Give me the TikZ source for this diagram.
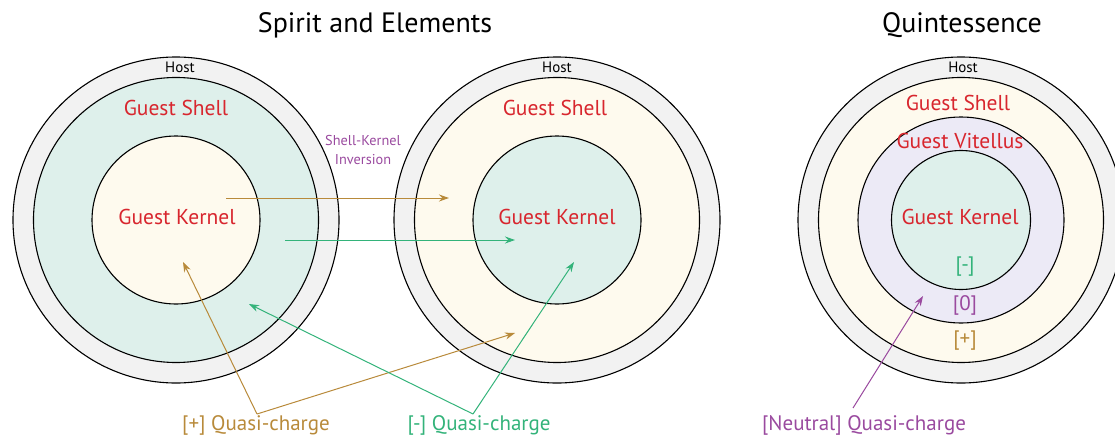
\documentclass[tikz,border=0pt]{standalone}
\usepackage{fontspec}
\setmainfont{PT Sans}
\usetikzlibrary{arrows.meta}
\definecolor{hostgray}{HTML}{F2F2F2}
\definecolor{tealfill}{HTML}{DEF0EB}
\definecolor{creamfill}{HTML}{FEFAEE}
\definecolor{lavfill}{HTML}{ECEAF6}
\definecolor{lblred}{HTML}{D8262E}
\definecolor{goldc}{HTML}{B88A3A}
\definecolor{grnc}{HTML}{33B37A}
\definecolor{purpc}{HTML}{9A4A9F}
\tikzset{
  ring/.style={circle, draw=black, line width=1.1pt, inner sep=0pt},
  title/.style={font=\fontsize{28}{32}\selectfont},
  hostlbl/.style={font=\fontsize{15}{17}\selectfont},
  invlbl/.style={font=\fontsize{14.3}{19}\selectfont},
  guestlbl/.style={font=\fontsize{21.5}{24}\selectfont, text=lblred},
  qlbl/.style={font=\fontsize{21}{24}\selectfont},
  conn/.style={line width=1pt, -{Stealth[length=10pt,width=7pt]}},
}
\begin{document}
\begin{tikzpicture}[x=1pt,y=-1pt]
\clip (0,0) rectangle (1115,436);
% ---------- left group ----------
\node[ring, fill=hostgray, minimum size=326pt] (LH) at (176,220) {};
\node[ring, fill=tealfill, minimum size=285pt] (LS) at (176,220) {};
\node[ring, fill=creamfill, minimum size=168pt] (LK) at (176,220) {};
% ---------- middle group ----------
\node[ring, fill=hostgray, minimum size=326pt] (MH) at (557,220) {};
\node[ring, fill=creamfill, minimum size=285pt] (MS) at (557,220) {};
\node[ring, fill=tealfill, minimum size=168pt] (MK) at (557,220) {};
% ---------- right group ----------
\node[ring, fill=hostgray, minimum size=326pt] (RH) at (961,220) {};
\node[ring, fill=creamfill, minimum size=285pt] (RS) at (961,220) {};
\node[ring, fill=lavfill, minimum size=206pt] (RV) at (961,220) {};
\node[ring, fill=tealfill, minimum size=139pt] (RK) at (961,220) {};
% ---------- titles ----------
\node[title] (t1) at (375,25) {Spirit and Elements};
\node[title] (t2) at (962,25) {Quintessence};
% ---------- labels ----------
\node[hostlbl] (lh) at (180,67) {Host};
\node[guestlbl] (ls) at (176,108) {Guest Shell};
\node[guestlbl] (lk) at (177,217) {Guest Kernel};
\node[hostlbl] (mh) at (557,67) {Host};
\node[guestlbl] (ms) at (555,108) {Guest Shell};
\node[guestlbl] (mk) at (557,217) {Guest Kernel};
\node[hostlbl] (rh) at (963,67) {Host};
\node[guestlbl] (rs) at (958,103) {Guest Shell};
\node[guestlbl] (rv) at (960,141) {Guest Vitellus};
\node[guestlbl] (rk) at (960,217) {Guest Kernel};
\node[qlbl, text=grnc] (rm) at (965,267) {[-]};
\node[qlbl, text=purpc] (rz) at (965,305) {[0]};
\node[qlbl, text=goldc] (rp) at (965,341) {[+]};
\node[invlbl, text=purpc, align=center] (inv) at (363,150) {Shell-Kernel\\Inversion};
\node[qlbl, text=goldc] (qp) at (256,425) {[+] Quasi-charge};
\node[qlbl, text=grnc] (qm) at (479,425) {[-] Quasi-charge};
\node[qlbl, text=purpc] (qn) at (864,425) {[Neutral] Quasi-charge};
% ---------- connector endpoints ----------
\coordinate (g1s) at (226,198);
\coordinate (g1e) at (449,198);
\coordinate (n1s) at (285,240);
\coordinate (n1e) at (515,240);
\coordinate (gap) at (257,414);
\coordinate (gt1) at (183,262);
\coordinate (gt2) at (515,333);
\coordinate (nap) at (473,414);
\coordinate (nt1) at (249,304);
\coordinate (nt2) at (574,262);
\coordinate (pst) at (853,408);
\coordinate (pt) at (923,296);
% ---------- connectors ----------
\draw[conn, goldc] (g1s) -- (g1e);
\draw[conn, grnc] (n1s) -- (n1e);
\draw[conn, goldc] (gap) -- (gt1);
\draw[conn, goldc] (gap) -- (gt2);
\draw[conn, grnc] (nap) -- (nt1);
\draw[conn, grnc] (nap) -- (nt2);
\draw[conn, purpc] (pst) -- (pt);
\end{tikzpicture}
\end{document}
